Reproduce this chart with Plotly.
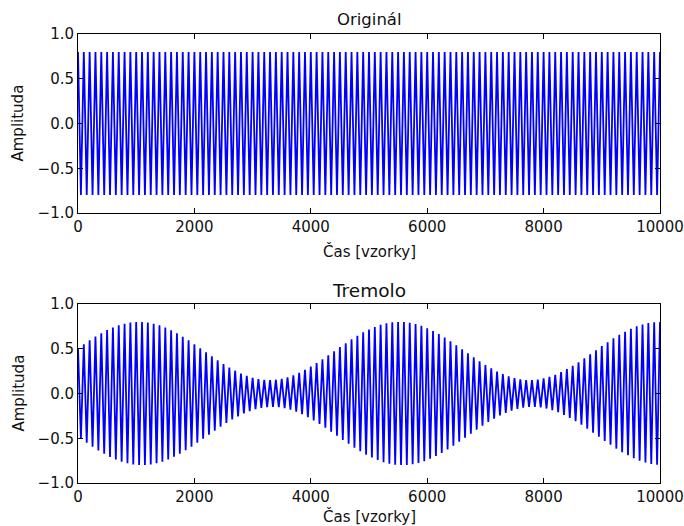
import plotly.graph_objects as go

# ---- data ----
SAMPLES = 10000            # x range (samples)
CARRIER_PERIOD = 100       # samples per carrier cycle (100 cycles visible)
ORIG_AMPLITUDE = 0.8       # constant amplitude of the original signal

# tremolo envelope: peak amplitude of each carrier cycle (k = 0..100, x = 100*k)
trem_envelope = [
    0.506, 0.551, 0.595, 0.636, 0.674, 0.708, 0.737, 0.762, 0.780, 0.793,
    0.799, 0.799, 0.793, 0.780, 0.761, 0.737, 0.707, 0.673, 0.635, 0.594,
    0.551, 0.506, 0.461, 0.415, 0.371, 0.329, 0.290, 0.255, 0.223, 0.197,
    0.176, 0.161, 0.152, 0.150, 0.154, 0.165, 0.181, 0.204, 0.231, 0.264,
    0.300, 0.339, 0.382, 0.427, 0.472, 0.518, 0.562, 0.605, 0.646, 0.683,
    0.716, 0.744, 0.767, 0.784, 0.795, 0.800, 0.798, 0.790, 0.776, 0.756,
    0.730, 0.699, 0.664, 0.625, 0.584, 0.540, 0.495, 0.449, 0.404, 0.361,
    0.319, 0.281, 0.246, 0.217, 0.192, 0.172, 0.158, 0.151, 0.150, 0.156,
    0.168, 0.186, 0.210, 0.239, 0.272, 0.309, 0.349, 0.393, 0.438, 0.484,
    0.529, 0.573, 0.616, 0.655, 0.691, 0.723, 0.750, 0.772, 0.787, 0.797,
    0.800,
]

x_ticks = [0, 2000, 4000, 6000, 8000, 10000]
y_ticks = [-1.0, -0.5, 0.0, 0.5, 1.0]
titles = ["Originál", "Tremolo"]
x_label = "Čas [vzorky]"
y_label = "Amplituda"

# ---- build peak/trough vertices ----
n_cycles = SAMPLES // CARRIER_PERIOD
half = CARRIER_PERIOD // 2
ox, oy, tx, ty = [], [], [], []
for k in range(n_cycles + 1):
    ox.append(k * CARRIER_PERIOD); oy.append(ORIG_AMPLITUDE)
    tx.append(k * CARRIER_PERIOD); ty.append(trem_envelope[k])
    if k < n_cycles:
        ox.append(k * CARRIER_PERIOD + half); oy.append(-ORIG_AMPLITUDE)
        tx.append(k * CARRIER_PERIOD + half); ty.append(-trem_envelope[k])

W, H = 684, 526
BLUE = "#0000ff"

fig = go.Figure()
fig.add_trace(go.Scatter(x=ox, y=oy, mode="lines", line=dict(color=BLUE, width=1.8),
                         xaxis="x", yaxis="y", showlegend=False, hoverinfo="skip"))
fig.add_trace(go.Scatter(x=tx, y=ty, mode="lines", line=dict(color=BLUE, width=1.8),
                         xaxis="x2", yaxis="y2", showlegend=False, hoverinfo="skip"))

xdom = [78 / W, 660 / W]
top_px, bot_px = (34, 213), (304, 483)


def ydom(p):
    return [1 - p[1] / H, 1 - p[0] / H]


axis_common = dict(showgrid=False, zeroline=False, showline=True, linecolor="black",
                   linewidth=1, mirror="allticks", ticks="inside", ticklen=5,
                   tickcolor="black", tickwidth=1, automargin=False,
                   tickfont=dict(family="DejaVu Sans", size=15, color="#111111"))

fig.update_layout(
    width=W, height=H, margin=dict(l=0, r=0, t=0, b=0, pad=0, autoexpand=False),
    paper_bgcolor="white", plot_bgcolor="white",
    xaxis=dict(domain=xdom, anchor="y", range=[0, SAMPLES], tickvals=x_ticks,
               ticktext=[str(v) for v in x_ticks], **axis_common),
    yaxis=dict(domain=ydom(top_px), anchor="x", range=[-1, 1], tickvals=y_ticks,
               tickformat=".1f", **axis_common),
    xaxis2=dict(domain=xdom, anchor="y2", range=[0, SAMPLES], tickvals=x_ticks,
                ticktext=[str(v) for v in x_ticks], **axis_common),
    yaxis2=dict(domain=ydom(bot_px), anchor="x2", range=[-1, 1], tickvals=y_ticks,
                tickformat=".1f", **axis_common),
)

font_lbl = dict(family="DejaVu Sans", size=15, color="#111111")
ann = []
cx = (78 + 660) / 2 / W
ann.append(dict(text=titles[0], x=cx, y=1 - 20 / H, xref="paper", yref="paper",
                showarrow=False, xanchor="center", yanchor="middle",
                font=dict(family="DejaVu Sans", size=16.5, color="#111111")))
ann.append(dict(text=titles[1], x=cx, y=1 - 290 / H, xref="paper", yref="paper",
                showarrow=False, xanchor="center", yanchor="middle",
                font=dict(family="DejaVu Sans", size=18.5, color="#111111")))
for yc in (251, 516):
    ann.append(dict(text=x_label, x=cx, y=1 - yc / H, xref="paper", yref="paper",
                    showarrow=False, xanchor="center", yanchor="middle", font=font_lbl))
for p in (top_px, bot_px):
    ann.append(dict(text=y_label, x=18 / W, y=1 - (p[0] + p[1]) / 2 / H, xref="paper",
                    yref="paper", showarrow=False, xanchor="center", yanchor="middle",
                    textangle=-90, font=font_lbl))
fig.update_layout(annotations=ann)

fig.write_html("out.html")
